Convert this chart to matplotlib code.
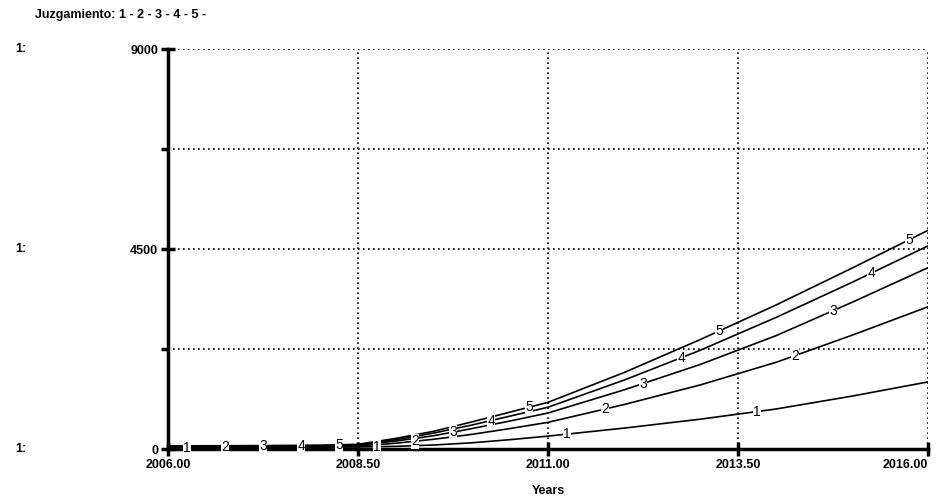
import matplotlib.pyplot as plt
import numpy as np

plt.rcParams['font.family'] = ['Liberation Sans Narrow', 'Liberation Sans', 'DejaVu Sans']

years = [2006, 2007, 2008, 2008.5, 2009, 2009.5, 2010, 2010.5, 2011, 2012, 2013, 2014, 2015, 2016]
s1 = [30, 35, 40, 45, 60, 90, 140, 210, 290, 470, 670, 900, 1190, 1510]
s2 = [40, 45, 55, 70, 130, 220, 330, 460, 600, 1000, 1440, 1950, 2560, 3200]
s3 = [50, 55, 65, 85, 180, 300, 460, 630, 810, 1330, 1900, 2550, 3300, 4080]
s4 = [60, 65, 75, 95, 210, 360, 540, 740, 940, 1550, 2220, 2960, 3750, 4570]
s5 = [70, 75, 85, 105, 240, 400, 610, 830, 1050, 1720, 2460, 3240, 4070, 4920]
series = [s1, s2, s3, s4, s5]
xticks = [2006.0, 2008.5, 2011.0, 2013.5, 2016.0]
yticks = [0, 4500, 9000]

fig = plt.figure(figsize=(9.36, 5), dpi=100)
ax = fig.add_axes([0.1795, 0.102, 0.812, 0.8])

for s in series:
    ax.plot(years, s, color='black', lw=1.2, zorder=3)

# numbered labels along the lines, cycling 1..5
for i in range(20):
    k = i % 5
    xl = 2006.25 + 0.5 * i
    yl = np.interp(xl, years, series[k])
    ax.text(xl, yl, str(k + 1), fontsize=10, ha='center', va='center', zorder=4,
            bbox=dict(facecolor='white', edgecolor='none', pad=0.3))

ax.set_xlim(2006, 2016)
ax.set_ylim(0, 9000)

# dotted grid
for x in [2008.5, 2011, 2013.5, 2016]:
    ax.axvline(x, color='black', ls=(0, (1, 2)), lw=1.2, zorder=1)
for y in [2250, 4500, 6750, 9000]:
    ax.axhline(y, color='black', ls=(0, (1, 2)), lw=1.2, zorder=1)

for sp in ['top', 'right']:
    ax.spines[sp].set_visible(False)
ax.spines['left'].set_linewidth(2.5)
ax.spines['bottom'].set_linewidth(2.5)

ax.set_xticks(xticks)
ax.set_xticklabels(['%.2f' % v for v in xticks], fontsize=9, fontweight='bold')
ax.get_xticklabels()[-1].set_horizontalalignment('right')
ax.set_yticks(yticks)
ax.set_yticklabels([str(v) for v in yticks], fontsize=9, fontweight='bold')
ax.set_yticks([2250, 6750], minor=True)
ax.tick_params(axis='both', which='major', direction='inout', length=10, width=2.5, pad=2)
ax.tick_params(axis='y', which='minor', direction='out', length=5, width=2.5)

ax.set_xlabel('Years', fontsize=9, fontweight='bold', labelpad=10)

fig.text(0.037, 0.97, 'Juzgamiento: 1 - 2 - 3 - 4 - 5 -', fontsize=9, fontweight='bold', va='center')
for y in yticks:
    yf = 0.102 + 0.8 * y / 9000
    fig.text(0.016, yf, '1:', fontsize=9, fontweight='bold', va='center')

fig.savefig('out.png', dpi=100)
